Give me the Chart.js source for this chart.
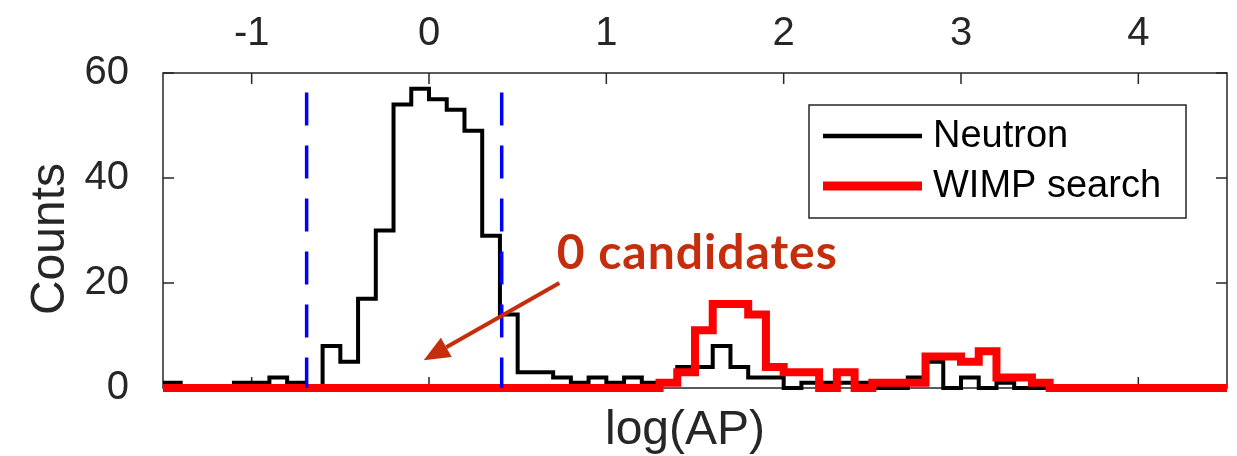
<!DOCTYPE html>
<html>
<head>
<meta charset="utf-8">
<script src="https://cdn.jsdelivr.net/npm/chart.js@4.4.1/dist/chart.umd.min.js"></script>
<style>
  html, body { margin: 0; padding: 0; background: #fff; }
  #wrap { width: 1237px; height: 456px; }
</style>
</head>
<body>
<div id="wrap"><canvas id="histChart" width="1237" height="456"></canvas></div>
<script>
// histogram bins: left edge of first bin and bin width, log(AP) units
const binStart = -1.5;
const binWidth = 0.1;

// counts per bin, 60 bins from -1.5 to 4.5
const neutronCounts = [
  1, 0, 0, 0, 1, 1, 2, 1, 0, 8,
  5, 17, 30, 54, 57, 55, 53, 49, 29, 14,
  3, 3, 2, 1, 2, 1, 2, 1, 1, 4,
  4, 8, 4, 2, 2, 0, 1, 1, 1, 1,
  0, 0, 2, 5, 0, 2, 0, 1, 0, 0,
  0, 0, 0, 0, 0, 0, 0, 0, 0, 0
];
const wimpCounts = [
  0, 0, 0, 0, 0, 0, 0, 0, 0, 0,
  0, 0, 0, 0, 0, 0, 0, 0, 0, 0,
  0, 0, 0, 0, 0, 0, 0, 0, 1, 3,
  11, 16, 16, 14, 4, 3, 3, 0, 3, 0,
  1, 1, 1, 6, 6, 5, 7, 2, 2, 1,
  0, 0, 0, 0, 0, 0, 0, 0, 0, 0
];

// cut lines (blue dashed) and their height
const cutValues = [-0.69, 0.41];
const cutTop = 56.3;

// axis ticks (x labels sit on top of the box)
const xTicks = [-1, 0, 1, 2, 3, 4];
const yTicks = [0, 20, 40, 60];
const xTitle = "log(AP)";
const yTitle = "Counts";

// legend order
const legendLabels = ["Neutron", "WIMP search"];

// annotation: text anchor and arrow tail/tip in data units
const noteText = "0 candidates";
const noteAt = [0.72, 22.6];
const arrowFrom = [0.735, 20.0];
const arrowTo = [-0.03, 5.3];

const axisColor = "#262626";
const noteColor = "#c62d0c";
const fontFamily = "'Liberation Sans', Arial, Helvetica, sans-serif";

function stairs(counts) {
  const pts = counts.map((c, i) => ({ x: binStart + i * binWidth, y: c }));
  pts.push({ x: binStart + counts.length * binWidth, y: counts[counts.length - 1] });
  return pts;
}

const frame = {
  id: "frame",
  beforeDatasetsDraw(chart) {
    const { ctx, chartArea: a, scales } = chart;
    const len = 11;
    ctx.save();
    ctx.strokeStyle = axisColor;
    ctx.lineWidth = 1.5;
    ctx.strokeRect(a.left, a.top, a.right - a.left, a.bottom - a.top);
    ctx.beginPath();
    xTicks.forEach(v => {
      const px = scales.x.getPixelForValue(v);
      ctx.moveTo(px, a.bottom); ctx.lineTo(px, a.bottom - len);
      ctx.moveTo(px, a.top); ctx.lineTo(px, a.top + len);
    });
    yTicks.forEach(v => {
      const py = scales.y.getPixelForValue(v);
      ctx.moveTo(a.left, py); ctx.lineTo(a.left + len, py);
      ctx.moveTo(a.right, py); ctx.lineTo(a.right - len, py);
    });
    ctx.stroke();

    // top tick labels
    ctx.fillStyle = axisColor;
    ctx.font = "40px " + fontFamily;
    ctx.textAlign = "center";
    ctx.textBaseline = "alphabetic";
    xTicks.forEach(v => {
      ctx.fillText(String(v), scales.x.getPixelForValue(v), 45);
    });

    // axis titles
    ctx.font = "48px " + fontFamily;
    ctx.fillText(xTitle, 685, 444);
    ctx.translate(64, 239);
    ctx.rotate(-Math.PI / 2);
    ctx.fillText(yTitle, 0, 0);
    ctx.restore();
  },
  afterDatasetsDraw(chart) {
    const { ctx, scales } = chart;
    const x = scales.x, y = scales.y;
    ctx.save();

    // annotation arrow
    const x0 = x.getPixelForValue(arrowFrom[0]), y0 = y.getPixelForValue(arrowFrom[1]);
    const x1 = x.getPixelForValue(arrowTo[0]), y1 = y.getPixelForValue(arrowTo[1]);
    const ang = Math.atan2(y1 - y0, x1 - x0);
    const head = 26, half = 11;
    const bx = x1 - head * Math.cos(ang), by = y1 - head * Math.sin(ang);
    ctx.strokeStyle = noteColor;
    ctx.fillStyle = noteColor;
    ctx.lineWidth = 4;
    ctx.beginPath();
    ctx.moveTo(x0, y0);
    ctx.lineTo(bx, by);
    ctx.stroke();
    ctx.beginPath();
    ctx.moveTo(x1, y1);
    ctx.lineTo(bx + half * Math.sin(ang), by - half * Math.cos(ang));
    ctx.lineTo(bx - half * Math.sin(ang), by + half * Math.cos(ang));
    ctx.closePath();
    ctx.fill();

    ctx.font = "bold 48px Lato, 'Open Sans', sans-serif";
    ctx.letterSpacing = "1px";
    ctx.textAlign = "left";
    ctx.textBaseline = "alphabetic";
    ctx.fillText(noteText, x.getPixelForValue(noteAt[0]), y.getPixelForValue(noteAt[1]));
    ctx.letterSpacing = "0px";

    // legend box
    const L = 809, T = 105, R = 1186, B = 218;
    ctx.fillStyle = "#fff";
    ctx.fillRect(L, T, R - L, B - T);
    ctx.strokeStyle = axisColor;
    ctx.lineWidth = 1.5;
    ctx.strokeRect(L, T, R - L, B - T);
    legendLabels.forEach((name, i) => {
      const d = chart.data.datasets.find(s => s.label === name);
      const cy = 136 + i * 50;
      ctx.strokeStyle = d.borderColor;
      ctx.lineWidth = d.legendWidth;
      ctx.beginPath();
      ctx.moveTo(823, cy);
      ctx.lineTo(922, cy);
      ctx.stroke();
      ctx.fillStyle = "#000";
      ctx.font = "38px " + fontFamily;
      ctx.textBaseline = "middle";
      ctx.fillText(name, 933, cy + 1);
    });
    ctx.restore();
  }
};

const cutSets = cutValues.map(v => ({
  label: "cut",
  data: [{ x: v, y: cutTop }, { x: v, y: 0 }],
  borderColor: "#0000ff",
  borderWidth: 3.5,
  borderDash: [33, 20],
  pointRadius: 0,
  order: 0,
  clip: 10
}));

new Chart(document.getElementById("histChart"), {
  type: "line",
  data: {
    datasets: [
      ...cutSets,
      {
        label: "WIMP search",
        data: stairs(wimpCounts),
        stepped: "before",
        borderColor: "#ff0000",
        borderWidth: 8,
        borderCapStyle: "butt",
        borderJoinStyle: "miter",
        pointRadius: 0,
        order: 1,
        clip: 10,
        legendWidth: 9
      },
      {
        label: "Neutron",
        data: stairs(neutronCounts),
        stepped: "before",
        borderColor: "#000000",
        borderWidth: 4,
        borderJoinStyle: "miter",
        pointRadius: 0,
        order: 2,
        clip: 10,
        legendWidth: 4.5
      }
    ]
  },
  options: {
    responsive: false,
    devicePixelRatio: 1,
    animation: false,
    layout: { padding: { left: 0, top: 73, right: 10, bottom: 0 } },
    plugins: { legend: { display: false }, tooltip: { enabled: false } },
    scales: {
      x: {
        type: "linear",
        position: "bottom",
        min: -1.5,
        max: 4.5,
        ticks: { display: false, stepSize: 1 },
        grid: { display: false },
        border: { display: false },
        afterFit: s => { s.height = 68; }
      },
      y: {
        type: "linear",
        position: "left",
        min: 0,
        max: 60,
        ticks: { stepSize: 20, color: axisColor, font: { family: fontFamily, size: 40 }, padding: 26 },
        grid: { display: false },
        border: { display: false },
        afterFit: s => { s.width = 163; }
      }
    }
  },
  plugins: [frame]
});
</script>
</body>
</html>
